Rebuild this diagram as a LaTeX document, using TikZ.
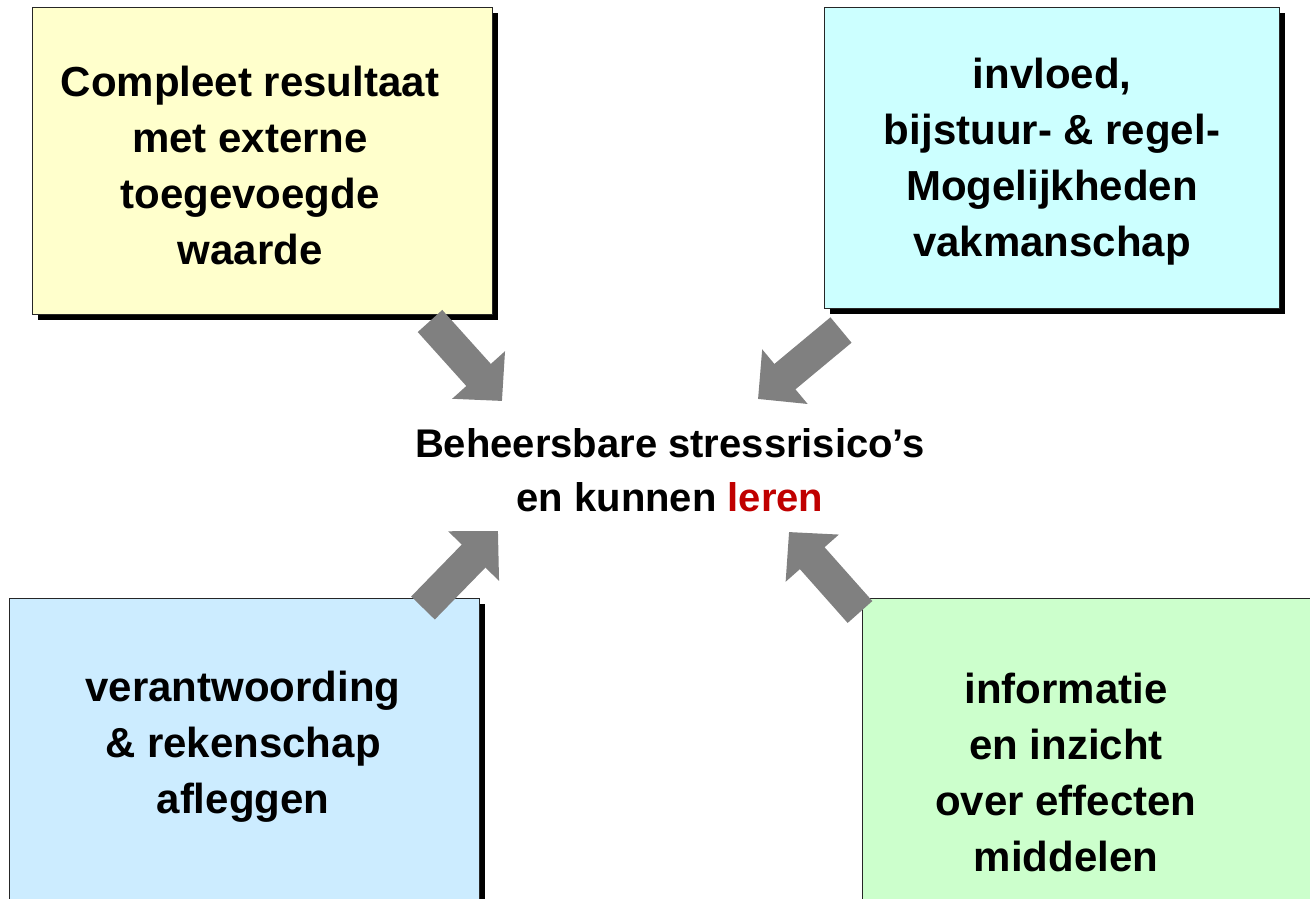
\documentclass[tikz,border=0pt]{standalone}
\usepackage{fontspec}
\setmainfont{Liberation Sans}
\usepackage{xcolor}
\usepackage{tikz}
\usetikzlibrary{arrows.meta, shadows}
\definecolor{yelfill}{HTML}{FFFFCC}
\definecolor{cyanfill}{HTML}{CCFFFF}
\definecolor{bluefill}{HTML}{CCECFF}
\definecolor{greenfill}{HTML}{CCFFCC}
\definecolor{arrowgray}{HTML}{808080}
\definecolor{lerenred}{HTML}{C00000}
\tikzstyle{card} = [rectangle, draw=black!85, line width=0.8pt, drop shadow={shadow xshift=6pt, shadow yshift=-6pt, fill=black, opacity=1}]
\tikzstyle{cardtext} = [align=center, font=\fontsize{42}{56}\selectfont\bfseries]
\tikzstyle{bigarrow} = [line width=33pt, draw=arrowgray, -{Triangle[width=69pt,length=35pt]}]

\begin{document}
\begin{tikzpicture}[x=1pt, y=-1pt]
      \useasboundingbox (0,0) rectangle (1310,899);

      % Nodes
      \node (compleet) [card, fill=yelfill, minimum width=460pt, minimum height=307pt] at (262,160.5) {};
      \node (invloed) [card, fill=cyanfill, minimum width=455pt, minimum height=301pt] at (1051.5,157.5) {};
      \node (verantw) [card, fill=bluefill, minimum width=470pt, minimum height=312pt] at (244,754) {};
      \node (info) [card, fill=greenfill, minimum width=468pt, minimum height=312pt] at (1096,754) {};

      \node (compleettext) [cardtext] at (250,165) {Compleet resultaat\\met externe\\toegevoegde\\waarde};
      \node (invloedtext) [cardtext] at (1052,162) {invloed,\\bijstuur- \& regel-\\Mogelijkheden\\vakmanschap};
      \node (verantwtext) [cardtext] at (243,747) {verantwoording\\\& rekenschap\\afleggen};
      \node (infotext) [cardtext] at (1066,772) {informatie\\en inzicht\\over effecten\\middelen};

      \node (stress) [align=center, font=\fontsize{40}{54}\selectfont\bfseries] at (670,470) {Beheersbare stressrisico’s\\en kunnen \textcolor{lerenred}{leren}};

      % Arrow ends
      \coordinate (t1) at (430,321);
      \coordinate (h1) at (502,401);
      \coordinate (t2) at (841,330);
      \coordinate (h2) at (758,399);
      \coordinate (t3) at (423,608);
      \coordinate (h3) at (498,531);
      \coordinate (t4) at (860,612);
      \coordinate (h4) at (789,532);

      % Arrows
      \draw [bigarrow] (t1) -- (h1);
      \draw [bigarrow] (t2) -- (h2);
      \draw [bigarrow] (t3) -- (h3);
      \draw [bigarrow] (t4) -- (h4);

\end{tikzpicture}
\end{document}
